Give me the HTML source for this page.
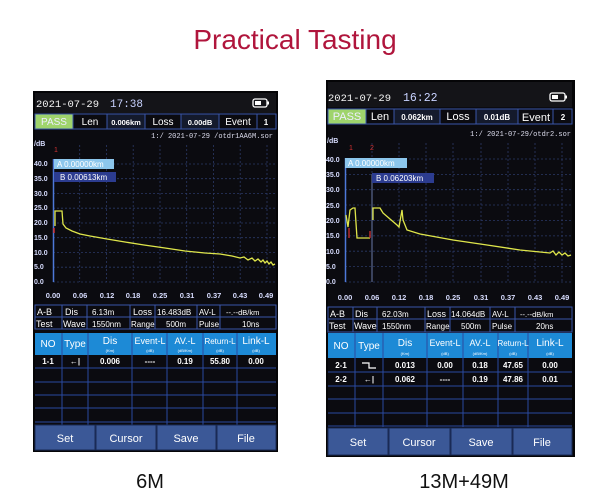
<!DOCTYPE html>
<html><head><meta charset="utf-8"><style>
html,body{margin:0;padding:0;background:#fff;width:600px;height:504px;overflow:hidden}
svg{display:block}
text{font-family:"Liberation Sans",sans-serif}
.m{font-family:"Liberation Mono",monospace}
</style></head><body>
<svg width="600" height="504" viewBox="0 0 600 504" xmlns="http://www.w3.org/2000/svg">
<rect width="600" height="504" fill="#fff"/>
<text x="295" y="49" font-size="28" fill="#b0153c" text-anchor="middle">Practical Tasting</text>
<text x="150" y="488" font-size="20" fill="#111" text-anchor="middle">6M</text>
<text x="464" y="488" font-size="20" fill="#111" text-anchor="middle">13M+49M</text>

<!-- ===== Device 1 ===== -->
<rect x="33" y="91" width="245" height="361" fill="#050507"/>
<rect x="35" y="93" width="241" height="357" fill="#0b0b10"/>
<rect x="35" y="93" width="241" height="20" fill="#141418"/>
<text x="36" y="107" font-size="10.5" fill="#f2f2f2" class="m">2021-07-29</text>
<text x="110" y="107" font-size="11" fill="#c8d2ff" class="m">17:38</text>
<rect x="253" y="99" width="14" height="8" rx="2" fill="none" stroke="#fff" stroke-width="1.3"/><rect x="255" y="101" width="6" height="4" fill="#fff"/><rect x="267.5" y="101.5" width="1.5" height="3" fill="#fff"/>
<g stroke="#3a56a8" stroke-width="1" fill="#0b0b10">
<rect x="35" y="114" width="38" height="15" fill="#9fd46c"/><rect x="73" y="114" width="34" height="15"/><rect x="107" y="114" width="38" height="15" fill="#141a2c"/><rect x="145" y="114" width="36" height="15"/><rect x="181" y="114" width="38" height="15" fill="#141a2c"/><rect x="219" y="114" width="38" height="15"/><rect x="257" y="114" width="19" height="15"/>
</g>
<g font-size="10" fill="#fff" text-anchor="middle">
<text x="54" y="125" fill="#eef">PASS</text><text x="90" y="125">Len</text><text x="126" y="125" font-size="7.5" font-weight="bold">0.006km</text><text x="163" y="125">Loss</text><text x="200" y="125" font-size="7.5" font-weight="bold">0.00dB</text><text x="238" y="125">Event</text><text x="266" y="125" font-size="8" font-weight="bold">1</text>
</g>
<text x="273" y="138" font-size="7" fill="#dde" text-anchor="end" class="m">1:/ 2021-07-29 /otdr1AA6M.sor</text>
<g stroke="#2b3966" stroke-width="0.8" stroke-dasharray="2,2">
<line x1="53" y1="164" x2="275" y2="164"/><line x1="53" y1="178.7" x2="275" y2="178.7"/><line x1="53" y1="193.5" x2="275" y2="193.5"/><line x1="53" y1="208.2" x2="275" y2="208.2"/><line x1="53" y1="223" x2="275" y2="223"/><line x1="53" y1="237.7" x2="275" y2="237.7"/><line x1="53" y1="252.5" x2="275" y2="252.5"/><line x1="53" y1="267.2" x2="275" y2="267.2"/><line x1="53" y1="282" x2="275" y2="282"/>
<line x1="79.7" y1="145" x2="79.7" y2="282"/><line x1="106.5" y1="145" x2="106.5" y2="282"/><line x1="133.2" y1="145" x2="133.2" y2="282"/><line x1="160" y1="145" x2="160" y2="282"/><line x1="186.7" y1="145" x2="186.7" y2="282"/><line x1="213.5" y1="145" x2="213.5" y2="282"/><line x1="240.2" y1="145" x2="240.2" y2="282"/><line x1="267" y1="145" x2="267" y2="282"/>
</g>
<g font-size="7" fill="#d8ddff" font-weight="bold" class="m">
<text x="34" y="146">/dB</text><text x="34" y="166">40.0</text><text x="34" y="181">35.0</text><text x="34" y="196">30.0</text><text x="34" y="210">25.0</text><text x="34" y="225">20.0</text><text x="34" y="240">15.0</text><text x="34" y="255">10.0</text><text x="34" y="269">5.0</text><text x="34" y="284">0.0</text>
</g>
<text x="54" y="152" font-size="7" fill="#d03030">1</text>
<line x1="53.5" y1="159" x2="53.5" y2="282" stroke="#4d78d8" stroke-width="1.5"/>
<rect x="54" y="159" width="60" height="10" fill="#8cc6ec"/><text x="57" y="167" font-size="8" fill="#fff">A 0.00000km</text>
<rect x="54" y="172" width="62" height="10" fill="#2c3c90"/><text x="60" y="180" font-size="8" fill="#fff">B 0.00613km</text>
<polyline fill="none" stroke="#dfe64a" stroke-width="1.3" points="55,226 55,211 62,211 63,224 66,228 72,231 80,234 90,236 107,239 125,242 144,245 165,248 185,251 205,253 220,254 232,256 240,258 244,257 248,260 252,258 255,261 258,259 261,262 263,260 265,263 267,261 269,264 271,262 273,265 275,264"/>
<line x1="54" y1="228" x2="54" y2="233" stroke="#d03030" stroke-width="1.5"/>
<g font-size="7.5" fill="#d8ddff" font-weight="bold" text-anchor="middle" class="m">
<text x="53" y="298">0.00</text><text x="80" y="298">0.06</text><text x="107" y="298">0.12</text><text x="133" y="298">0.18</text><text x="160" y="298">0.25</text><text x="187" y="298">0.31</text><text x="214" y="298">0.37</text><text x="240" y="298">0.43</text><text x="266" y="298">0.49</text>
</g>
<g stroke="#3a56a8" stroke-width="1" fill="#0b0b10">
<rect x="35" y="305" width="27" height="12"/><rect x="62" y="305" width="25" height="12"/><rect x="87" y="305" width="43" height="12"/><rect x="130" y="305" width="25" height="12"/><rect x="155" y="305" width="42" height="12"/><rect x="197" y="305" width="23" height="12"/><rect x="220" y="305" width="56" height="12"/>
<rect x="35" y="317" width="27" height="12"/><rect x="62" y="317" width="25" height="12"/><rect x="87" y="317" width="43" height="12"/><rect x="130" y="317" width="25" height="12"/><rect x="155" y="317" width="42" height="12"/><rect x="197" y="317" width="23" height="12"/><rect x="220" y="317" width="56" height="12"/>
</g>
<g font-size="9" fill="#fff">
<text x="37" y="315">A-B</text><text x="65" y="315">Dis</text><text x="92" y="315" font-size="8">6.13m</text><text x="133" y="315">Loss</text><text x="157" y="315" font-size="8">16.483dB</text><text x="199" y="315" font-size="8">AV-L</text><text x="226" y="315" font-size="7.5">--.--dB/km</text>
<text x="36" y="327">Test</text><text x="63" y="327">Wave</text><text x="92" y="327" font-size="8">1550nm</text><text x="131" y="327" font-size="8">Range</text><text x="166" y="327" font-size="8">500m</text><text x="199" y="327" font-size="8">Pulse</text><text x="242" y="327" font-size="8">10ns</text>
</g>
<rect x="35" y="333" width="241" height="22" fill="#1d8ad6"/>
<g stroke="#2a4aa0" stroke-width="1"><line x1="62" y1="333" x2="62" y2="425"/><line x1="88" y1="333" x2="88" y2="425"/><line x1="132" y1="333" x2="132" y2="425"/><line x1="167" y1="333" x2="167" y2="425"/><line x1="203" y1="333" x2="203" y2="425"/><line x1="237" y1="333" x2="237" y2="425"/>
<line x1="35" y1="368" x2="276" y2="368"/><line x1="35" y1="382" x2="276" y2="382"/><line x1="35" y1="395" x2="276" y2="395"/><line x1="35" y1="408" x2="276" y2="408"/><line x1="35" y1="422" x2="276" y2="422"/></g>
<g font-size="10" fill="#fff" text-anchor="middle">
<text x="48" y="347">NO</text><text x="75" y="347">Type</text><text x="110" y="344">Dis</text><text x="150" y="344" font-size="9">Event-L</text><text x="185" y="344" font-size="9">AV.-L</text><text x="220" y="344" font-size="8">Return-L</text><text x="256" y="344">Link-L</text>
<text x="110" y="352" font-size="4">(Km)</text><text x="150" y="352" font-size="4">(dB)</text><text x="185" y="352" font-size="4">(dB/Km)</text><text x="220" y="352" font-size="4">(dB)</text><text x="256" y="352" font-size="4">(dB)</text>
</g>
<g font-size="8" fill="#fff" font-weight="bold" text-anchor="middle" class="m">
<text x="48" y="364">1-1</text><text x="75" y="364">←|</text><text x="110" y="364">0.006</text><text x="150" y="364">----</text><text x="185" y="364">0.19</text><text x="220" y="364">55.80</text><text x="256" y="364">0.00</text>
</g>
<g fill="#3b5897" stroke="#1a2a55"><rect x="35" y="425" width="60" height="25"/><rect x="96" y="425" width="60" height="25"/><rect x="157" y="425" width="59" height="25"/><rect x="217" y="425" width="59" height="25"/></g>
<g font-size="11" fill="#fff" text-anchor="middle"><text x="65" y="442">Set</text><text x="126" y="442">Cursor</text><text x="186" y="442">Save</text><text x="246" y="442">File</text></g>

<!-- ===== Device 2 ===== -->
<rect x="326" y="80" width="249" height="377" fill="#050507"/>
<rect x="328" y="82" width="244" height="373" fill="#0b0b10"/>
<rect x="328" y="82" width="244" height="25" fill="#141418"/>
<text x="328" y="101" font-size="10.5" fill="#f2f2f2" class="m">2021-07-29</text>
<text x="403" y="101" font-size="11.5" fill="#c8d2ff" class="m">16:22</text>
<rect x="550" y="93" width="15" height="8" rx="2" fill="none" stroke="#fff" stroke-width="1.3"/><rect x="552" y="95" width="6" height="4" fill="#fff"/><rect x="565.5" y="95.5" width="1.5" height="3" fill="#fff"/>
<g stroke="#3a56a8" stroke-width="1" fill="#0b0b10">
<rect x="328" y="109" width="38" height="15" fill="#9fd46c"/><rect x="366" y="109" width="28" height="15"/><rect x="394" y="109" width="46" height="15" fill="#141a2c"/><rect x="440" y="109" width="36" height="15"/><rect x="476" y="109" width="42" height="15" fill="#141a2c"/><rect x="518" y="109" width="35" height="15"/><rect x="553" y="109" width="19" height="15"/>
</g>
<g font-size="11" fill="#fff" text-anchor="middle">
<text x="347" y="120" fill="#eef">PASS</text><text x="380" y="120">Len</text><text x="417" y="120" font-size="8" font-weight="bold">0.062km</text><text x="458" y="120">Loss</text><text x="497" y="120" font-size="8" font-weight="bold">0.01dB</text><text x="536" y="121">Event</text><text x="563" y="120" font-size="8" font-weight="bold">2</text>
</g>
<text x="571" y="136" font-size="7" fill="#dde" text-anchor="end" class="m">1:/ 2021-07-29/otdr2.sor</text>
<g stroke="#2b3966" stroke-width="0.8" stroke-dasharray="2,2">
<line x1="345" y1="159" x2="572" y2="159"/><line x1="345" y1="174.4" x2="572" y2="174.4"/><line x1="345" y1="189.7" x2="572" y2="189.7"/><line x1="345" y1="205" x2="572" y2="205"/><line x1="345" y1="220.5" x2="572" y2="220.5"/><line x1="345" y1="235.9" x2="572" y2="235.9"/><line x1="345" y1="251.2" x2="572" y2="251.2"/><line x1="345" y1="266.6" x2="572" y2="266.6"/><line x1="345" y1="282" x2="572" y2="282"/>
<line x1="372" y1="143" x2="372" y2="282"/><line x1="399" y1="143" x2="399" y2="282"/><line x1="426" y1="143" x2="426" y2="282"/><line x1="453" y1="143" x2="453" y2="282"/><line x1="481" y1="143" x2="481" y2="282"/><line x1="508" y1="143" x2="508" y2="282"/><line x1="535" y1="143" x2="535" y2="282"/><line x1="562" y1="143" x2="562" y2="282"/>
</g>
<g font-size="7" fill="#d8ddff" font-weight="bold" class="m">
<text x="327" y="143">/dB</text><text x="326" y="162">40.0</text><text x="326" y="177">35.0</text><text x="326" y="192">30.0</text><text x="326" y="208">25.0</text><text x="326" y="223">20.0</text><text x="326" y="238">15.0</text><text x="326" y="254">10.0</text><text x="326" y="269">5.0</text><text x="326" y="284">0.0</text>
</g>
<text x="349" y="150" font-size="7" fill="#d03030">1</text><text x="370" y="150" font-size="7" fill="#d03030">2</text>
<line x1="345.5" y1="158" x2="345.5" y2="282" stroke="#4d78d8" stroke-width="1.5"/>
<line x1="372" y1="174" x2="372" y2="282" stroke="#6a7aa8" stroke-width="1"/>
<rect x="345" y="158" width="62" height="10" fill="#8cc6ec"/><text x="348" y="166" font-size="8" fill="#fff">A 0.00000km</text>
<rect x="372" y="173" width="62" height="10" fill="#2c3c90"/><text x="376" y="181" font-size="8" fill="#fff">B 0.06203km</text>
<polyline fill="none" stroke="#dfe64a" stroke-width="1.3" points="346,215 348,227 350,210 353,208 355,208 357,238 370,238"/>
<polyline fill="none" stroke="#dfe64a" stroke-width="1.3" points="373,220 373,208 380,208 383,213 390,219 397,225 399,227 402,210 403,220 407,230 420,234 453,240 487,245 520,250 540,252 550,253 553,251 556,255 559,252 562,255 565,253 568,256 571,255"/>
<line x1="349" y1="228" x2="349" y2="238" stroke="#d03030" stroke-width="1.3"/><line x1="370" y1="231" x2="370" y2="238" stroke="#d03030" stroke-width="1.3"/>
<g font-size="7.5" fill="#d8ddff" font-weight="bold" text-anchor="middle" class="m">
<text x="345" y="300">0.00</text><text x="372" y="300">0.06</text><text x="399" y="300">0.12</text><text x="426" y="300">0.18</text><text x="453" y="300">0.25</text><text x="481" y="300">0.31</text><text x="508" y="300">0.37</text><text x="535" y="300">0.43</text><text x="562" y="300">0.49</text>
</g>
<g stroke="#3a56a8" stroke-width="1" fill="#0b0b10">
<rect x="328" y="307" width="25" height="12"/><rect x="353" y="307" width="24" height="12"/><rect x="377" y="307" width="48" height="12"/><rect x="425" y="307" width="25" height="12"/><rect x="450" y="307" width="40" height="12"/><rect x="490" y="307" width="25" height="12"/><rect x="515" y="307" width="57" height="12"/>
<rect x="328" y="319" width="25" height="13"/><rect x="353" y="319" width="24" height="13"/><rect x="377" y="319" width="48" height="13"/><rect x="425" y="319" width="25" height="13"/><rect x="450" y="319" width="40" height="13"/><rect x="490" y="319" width="25" height="13"/><rect x="515" y="319" width="57" height="13"/>
</g>
<g font-size="9" fill="#fff">
<text x="330" y="317">A-B</text><text x="355" y="317">Dis</text><text x="382" y="317" font-size="8">62.03m</text><text x="427" y="317">Loss</text><text x="451" y="317" font-size="8">14.064dB</text><text x="492" y="317" font-size="8">AV-L</text><text x="520" y="317" font-size="7.5">--.--dB/km</text>
<text x="329" y="329">Test</text><text x="354" y="329">Wave</text><text x="382" y="329" font-size="8">1550nm</text><text x="426" y="329" font-size="8">Range</text><text x="461" y="329" font-size="8">500m</text><text x="492" y="329" font-size="8">Pulse</text><text x="536" y="329" font-size="8">20ns</text>
</g>
<rect x="328" y="333" width="244" height="25" fill="#1d8ad6"/>
<g stroke="#2a4aa0" stroke-width="1"><line x1="355" y1="333" x2="355" y2="427"/><line x1="383" y1="333" x2="383" y2="427"/><line x1="427" y1="333" x2="427" y2="427"/><line x1="463" y1="333" x2="463" y2="427"/><line x1="498" y1="333" x2="498" y2="427"/><line x1="528" y1="333" x2="528" y2="427"/>
<line x1="328" y1="372" x2="572" y2="372"/><line x1="328" y1="386" x2="572" y2="386"/><line x1="328" y1="399" x2="572" y2="399"/><line x1="328" y1="413" x2="572" y2="413"/><line x1="328" y1="426" x2="572" y2="426"/></g>
<g font-size="10" fill="#fff" text-anchor="middle">
<text x="341" y="349">NO</text><text x="369" y="349">Type</text><text x="405" y="346">Dis</text><text x="445" y="346" font-size="9">Event-L</text><text x="480" y="346" font-size="9">AV.-L</text><text x="513" y="346" font-size="8">Return-L</text><text x="550" y="346">Link-L</text>
<text x="405" y="355" font-size="4">(Km)</text><text x="445" y="355" font-size="4">(dB)</text><text x="480" y="355" font-size="4">(dB/Km)</text><text x="513" y="355" font-size="4">(dB)</text><text x="550" y="355" font-size="4">(dB)</text>
</g>
<g font-size="8" fill="#fff" font-weight="bold" text-anchor="middle" class="m">
<text x="341" y="368">2-1</text><text x="405" y="368">0.013</text><text x="445" y="368">0.00</text><text x="480" y="368">0.18</text><text x="513" y="368">47.65</text><text x="550" y="368">0.00</text>
<text x="341" y="382">2-2</text><text x="369" y="382">←|</text><text x="405" y="382">0.062</text><text x="445" y="382">----</text><text x="480" y="382">0.19</text><text x="513" y="382">47.86</text><text x="550" y="382">0.01</text>
</g>
<polyline points="362,363 369,363 369,368 376,368" fill="none" stroke="#fff" stroke-width="1.2"/>
<g fill="#3b5897" stroke="#1a2a55"><rect x="328" y="428" width="60" height="27"/><rect x="389" y="428" width="61" height="27"/><rect x="451" y="428" width="61" height="27"/><rect x="513" y="428" width="59" height="27"/></g>
<g font-size="11" fill="#fff" text-anchor="middle"><text x="358" y="446">Set</text><text x="419" y="446">Cursor</text><text x="481" y="446">Save</text><text x="542" y="446">File</text></g>
</svg>
</body></html>
